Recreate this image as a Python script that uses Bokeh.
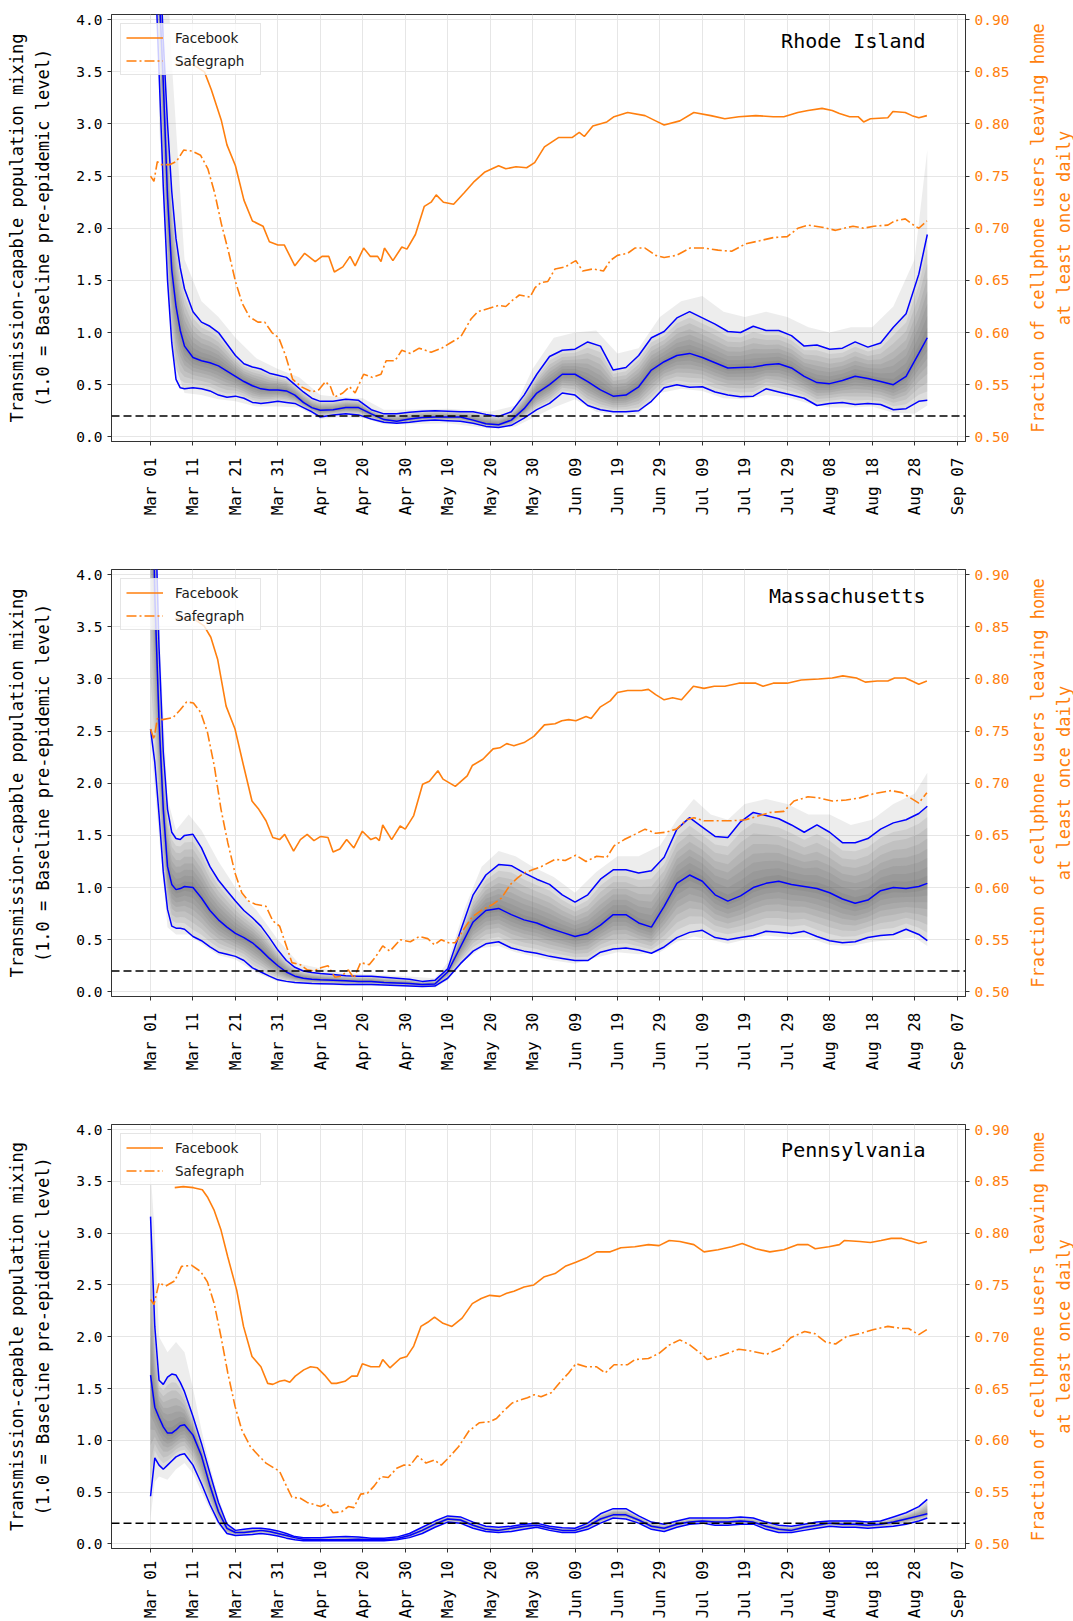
import numpy as np
from bokeh.plotting import figure
from bokeh.models import (Range1d, LinearAxis, FixedTicker, PrintfTickFormatter, Span,
                          Label, Legend, LegendItem)
from bokeh.layouts import column, row
from bokeh.embed import file_html
from bokeh.resources import INLINE

# ---------------- data ----------------
TICK_DAYS = list(range(0, 191, 10))
TICK_LABELS = ["Mar 01", "Mar 11", "Mar 21", "Mar 31", "Apr 10", "Apr 20", "Apr 30",
               "May 10", "May 20", "May 30", "Jun 09", "Jun 19", "Jun 29", "Jul 09",
               "Jul 19", "Jul 29", "Aug 08", "Aug 18", "Aug 28", "Sep 07"]
LEFT_TICKS = [0.0, 0.5, 1.0, 1.5, 2.0, 2.5, 3.0, 3.5, 4.0]
RIGHT_TICKS = [0.50, 0.55, 0.60, 0.65, 0.70, 0.75, 0.80, 0.85, 0.90]

GRID_DAYS = [0, 1, 2, 3, 4, 5, 6, 7, 8, 10, 12, 14, 16, 18, 20, 22, 24, 26, 28, 30, 32, 34,
             36, 38, 40, 43, 46, 49, 52, 55, 58, 61, 64, 67, 70, 73, 76, 79, 82, 85, 88, 91,
             94, 97, 100, 103, 106, 109, 112, 115, 118, 121, 124, 127, 130, 133, 136, 139,
             142, 145, 148, 151, 154, 157, 160, 163, 166, 169, 172, 175, 178, 181, 183]

# ---- Rhode Island ----
RI_LOWER = [6.0, 4.6, 3.5, 2.4, 1.5, 0.9, 0.55, 0.47, 0.46, 0.47, 0.46, 0.44, 0.40, 0.38, 0.39,
            0.37, 0.33, 0.32, 0.33, 0.34, 0.33, 0.32, 0.28, 0.24, 0.19, 0.21, 0.22, 0.21, 0.17,
            0.14, 0.13, 0.14, 0.155, 0.16, 0.155, 0.15, 0.13, 0.10, 0.09, 0.11, 0.18, 0.26,
            0.32, 0.42, 0.40, 0.30, 0.26, 0.24, 0.24, 0.25, 0.34, 0.47, 0.50, 0.475, 0.48,
            0.43, 0.40, 0.385, 0.39, 0.46, 0.43, 0.40, 0.37, 0.30, 0.32, 0.33, 0.31, 0.32,
            0.31, 0.26, 0.27, 0.34, 0.35]
RI_MEDIAN = [7.0, 5.6, 4.3, 3.4, 2.3, 1.6, 1.25, 1.02, 0.87, 0.76, 0.73, 0.71, 0.68, 0.63, 0.58,
             0.53, 0.49, 0.46, 0.45, 0.45, 0.44, 0.40, 0.33, 0.28, 0.255, 0.26, 0.28, 0.28, 0.22,
             0.165, 0.15, 0.17, 0.185, 0.19, 0.19, 0.19, 0.16, 0.125, 0.115, 0.16, 0.27, 0.42,
             0.50, 0.60, 0.60, 0.53, 0.45, 0.39, 0.40, 0.48, 0.64, 0.72, 0.78, 0.80, 0.76, 0.71,
             0.66, 0.665, 0.67, 0.69, 0.70, 0.66, 0.58, 0.52, 0.51, 0.54, 0.58, 0.56, 0.53,
             0.50, 0.58, 0.80, 0.95]
RI_UPPER = [7.5, 6.3, 4.8, 3.8, 3.0, 2.35, 1.9, 1.62, 1.42, 1.2, 1.10, 1.06, 1.00, 0.89, 0.78,
            0.70, 0.67, 0.65, 0.61, 0.59, 0.57, 0.50, 0.43, 0.37, 0.34, 0.34, 0.36, 0.35, 0.26,
            0.22, 0.22, 0.235, 0.245, 0.25, 0.245, 0.24, 0.24, 0.215, 0.195, 0.24, 0.40, 0.60,
            0.77, 0.83, 0.84, 0.91, 0.87, 0.64, 0.665, 0.78, 0.95, 1.01, 1.14, 1.20, 1.14,
            1.08, 1.01, 1.00, 1.06, 1.02, 1.02, 0.97, 0.87, 0.88, 0.84, 0.85, 0.91, 0.86,
            0.90, 1.05, 1.18, 1.56, 1.94]
RI_ENV_DAYS = [2, 5, 8, 12, 16, 20, 25, 30, 35, 40, 45, 50, 55, 60, 70, 80, 86, 90, 95, 100,
               105, 110, 115, 120, 125, 130, 135, 140, 145, 150, 155, 160, 165, 170, 175, 180, 183]
RI_ENV_HI = [6, 3.6, 1.7, 1.3, 1.15, 0.95, 0.75, 0.65, 0.57, 0.4, 0.38, 0.37, 0.26, 0.26, 0.27,
             0.24, 0.3, 0.65, 0.95, 1.0, 1.02, 0.8, 0.85, 1.15, 1.3, 1.35, 1.2, 1.15, 1.2, 1.15,
             1.05, 1.0, 1.05, 1.05, 1.25, 1.7, 2.75]
RI_ENV_LO = [3.0, 0.8, 0.42, 0.40, 0.36, 0.34, 0.29, 0.29, 0.28, 0.17, 0.19, 0.18, 0.12, 0.12,
             0.13, 0.08, 0.10, 0.18, 0.28, 0.36, 0.24, 0.21, 0.22, 0.42, 0.46, 0.44, 0.37, 0.36,
             0.40, 0.38, 0.32, 0.28, 0.28, 0.29, 0.23, 0.22, 0.3]
RI_FB_DAYS = [5.7, 10, 12.7, 14.3, 16.7, 18, 20, 22, 24, 26.5, 28, 30, 31.5, 34, 36.3, 38.8, 40.4,
              42, 43.3, 45.3, 47, 48.2, 50.2, 51.8, 53.5, 54.3, 55.1, 57.1, 59.2, 60.4, 62.4,
              64.5, 66.1, 67.3, 69, 71.4, 73.9, 76.3, 78.8, 82, 83.7, 86.1, 88.6, 90.5, 92.8,
              96.1, 99.3, 101, 102.2, 104.2, 107.5, 109.2, 112.4, 116.5, 119, 121, 124.7, 128,
              132, 135.3, 138.6, 142.6, 146.7, 149.2, 152.5, 154.9, 158.2, 160.6, 162.3, 164.7,
              166.7, 168, 169.6, 173.7, 174.9, 177.8, 179.4, 181, 182.9]
RI_FB = [0.857, 0.857, 0.850, 0.833, 0.803, 0.780, 0.760, 0.727, 0.707, 0.702, 0.687, 0.684,
         0.684, 0.664, 0.676, 0.668, 0.673, 0.673, 0.658, 0.663, 0.673, 0.664, 0.681, 0.673,
         0.673, 0.668, 0.681, 0.669, 0.682, 0.680, 0.694, 0.721, 0.725, 0.732, 0.725, 0.723,
         0.734, 0.745, 0.754, 0.760, 0.757, 0.759, 0.758, 0.763, 0.778, 0.787, 0.787, 0.792,
         0.788, 0.798, 0.802, 0.807, 0.811, 0.808, 0.803, 0.799, 0.803, 0.811, 0.808, 0.805,
         0.807, 0.808, 0.807, 0.807, 0.811, 0.813, 0.815, 0.813, 0.810, 0.807, 0.807, 0.802,
         0.805, 0.806, 0.812, 0.811, 0.808, 0.806, 0.808]
RI_SG_DAYS = [0, 0.8, 1.6, 2.4, 4.5, 6.1, 7.8, 9.8, 11.8, 13.5, 15.1, 16.7, 18.4, 20, 21.6, 23.3,
              25.3, 26.9, 28.6, 30.2, 31.8, 33.5, 35.5, 38, 39.6, 41.2, 42.4, 43.3, 45.3, 46.9,
              48.2, 50.2, 52.2, 54.3, 55.5, 57.6, 59.2, 61.2, 63.3, 66.1, 68.6, 70.6, 73.1,
              75.5, 77.1, 79.6, 82, 83.7, 85.3, 86.9, 89.4, 90.6, 92, 93.6, 95.3, 97.7, 100.2,
              101.8, 104.2, 106.7, 108.3, 110, 112.4, 114.1, 116.5, 119, 121, 123.9, 127.1,
              130.4, 133.7, 136.9, 140.2, 143.5, 146.7, 150, 152.5, 154.9, 158.2, 161.4, 165.5,
              168, 170.4, 173.7, 175.3, 177.8, 179.4, 181, 182.9]
RI_SG = [0.750, 0.745, 0.764, 0.761, 0.761, 0.764, 0.775, 0.774, 0.770, 0.757, 0.734, 0.704,
         0.677, 0.649, 0.628, 0.615, 0.610, 0.610, 0.600, 0.595, 0.578, 0.555, 0.548, 0.543,
         0.545, 0.553, 0.548, 0.538, 0.542, 0.548, 0.542, 0.560, 0.557, 0.560, 0.573, 0.573,
         0.583, 0.580, 0.585, 0.581, 0.585, 0.590, 0.596, 0.613, 0.620, 0.623, 0.626, 0.625,
         0.631, 0.636, 0.634, 0.643, 0.648, 0.649, 0.661, 0.663, 0.669, 0.659, 0.661, 0.659,
         0.669, 0.674, 0.676, 0.681, 0.681, 0.674, 0.672, 0.674, 0.681, 0.681, 0.679, 0.678,
         0.685, 0.688, 0.691, 0.692, 0.700, 0.703, 0.701, 0.698, 0.702, 0.700, 0.702, 0.703,
         0.707, 0.709, 0.704, 0.700, 0.707]

# ---- Massachusetts ----
MA_LOWER = [2.52, 2.2, 1.7, 1.15, 0.79, 0.63, 0.61, 0.61, 0.60, 0.53, 0.49, 0.43, 0.38, 0.36,
            0.34, 0.30, 0.23, 0.19, 0.15, 0.115, 0.10, 0.09, 0.085, 0.08, 0.078, 0.075, 0.07,
            0.07, 0.07, 0.065, 0.06, 0.055, 0.05, 0.055, 0.13, 0.27, 0.39, 0.46, 0.48, 0.42,
            0.39, 0.37, 0.34, 0.32, 0.30, 0.30, 0.38, 0.41, 0.42, 0.40, 0.37, 0.43, 0.52, 0.57,
            0.59, 0.52, 0.50, 0.52, 0.54, 0.58, 0.57, 0.56, 0.58, 0.53, 0.49, 0.47, 0.48, 0.52,
            0.54, 0.55, 0.60, 0.55, 0.49]
MA_MEDIAN = [6.0, 3.8, 2.6, 1.75, 1.2, 1.03, 0.98, 0.99, 1.01, 1.0, 0.9, 0.78, 0.69, 0.62, 0.56,
             0.52, 0.47, 0.40, 0.32, 0.25, 0.19, 0.15, 0.13, 0.12, 0.115, 0.11, 0.105, 0.10,
             0.10, 0.09, 0.085, 0.08, 0.07, 0.075, 0.19, 0.43, 0.67, 0.78, 0.80, 0.74, 0.69,
             0.66, 0.61, 0.57, 0.53, 0.56, 0.64, 0.74, 0.74, 0.66, 0.62, 0.82, 1.04, 1.12, 1.06,
             0.93, 0.87, 0.92, 1.00, 1.04, 1.06, 1.03, 1.01, 0.99, 0.95, 0.89, 0.85, 0.88, 0.97,
             1.00, 0.99, 1.01, 1.04]
MA_UPPER = [7.0, 4.8, 3.3, 2.3, 1.75, 1.53, 1.47, 1.46, 1.50, 1.51, 1.38, 1.20, 1.07, 0.97, 0.87,
            0.78, 0.71, 0.63, 0.52, 0.40, 0.30, 0.235, 0.20, 0.185, 0.175, 0.165, 0.155, 0.15,
            0.15, 0.14, 0.13, 0.12, 0.10, 0.11, 0.22, 0.58, 0.93, 1.12, 1.22, 1.21, 1.14, 1.08,
            1.03, 0.93, 0.86, 0.93, 1.08, 1.17, 1.17, 1.14, 1.16, 1.29, 1.56, 1.67, 1.58, 1.49,
            1.48, 1.63, 1.72, 1.69, 1.66, 1.60, 1.53, 1.60, 1.53, 1.43, 1.43, 1.47, 1.56, 1.62,
            1.65, 1.71, 1.78]
MA_ENV_DAYS = [0, 2, 4, 6, 9, 12, 16, 20, 25, 30, 35, 45, 60, 67, 70, 74, 78, 82, 86, 90, 95,
               100, 105, 110, 115, 120, 124, 128, 132, 136, 140, 145, 150, 155, 160, 165, 170,
               175, 180, 183]
MA_ENV_HI = [7, 3.5, 1.85, 1.55, 1.7, 1.55, 1.25, 1.0, 0.78, 0.5, 0.27, 0.18, 0.15, 0.13, 0.28,
             0.8, 1.2, 1.35, 1.3, 1.2, 1.1, 0.95, 1.15, 1.3, 1.3, 1.4, 1.65, 1.85, 1.7, 1.65,
             1.8, 1.85, 1.8, 1.7, 1.7, 1.6, 1.65, 1.8, 1.9, 2.1]
MA_ENV_LO = [2.4, 1.5, 0.62, 0.55, 0.55, 0.46, 0.35, 0.31, 0.18, 0.1, 0.075, 0.06, 0.05, 0.04,
             0.11, 0.3, 0.42, 0.44, 0.38, 0.34, 0.3, 0.27, 0.33, 0.38, 0.36, 0.38, 0.48, 0.53,
             0.5, 0.46, 0.5, 0.54, 0.52, 0.52, 0.45, 0.44, 0.48, 0.5, 0.52, 0.44]
MA_FB_DAYS = [5.7, 10.1, 12.6, 14.2, 15.8, 17.8, 19.9, 21.9, 23.9, 25.5, 27.2, 28.8, 30.4, 31.6,
              33.7, 35.3, 36.9, 38.5, 40.1, 41.8, 43, 44.6, 46.2, 47.9, 49.9, 51.9, 53.1, 53.9,
              54.7, 56.8, 58.8, 60, 62, 64.1, 65.7, 67.7, 68.9, 71.8, 74.6, 75.8, 78.3, 80.7,
              82.3, 83.9, 85.6, 88, 90.3, 92.8, 95.3, 96.9, 98.5, 100.2, 102.6, 103.8, 105.9,
              108.3, 110, 112.4, 115.7, 117.3, 119, 121, 123, 125.1, 127.9, 130.4, 132.8, 135.3,
              138.6, 142.6, 144.3, 146.7, 150, 153.3, 157.4, 160.6, 163.1, 166.3, 168.4, 171.2,
              173.7, 175.3, 177.8, 179.4, 181, 182.9]
MA_FB = [0.858, 0.858, 0.851, 0.840, 0.819, 0.774, 0.752, 0.717, 0.683, 0.675, 0.664, 0.648,
         0.646, 0.651, 0.635, 0.646, 0.651, 0.645, 0.649, 0.648, 0.634, 0.637, 0.646, 0.638,
         0.654, 0.646, 0.648, 0.645, 0.660, 0.646, 0.659, 0.656, 0.669, 0.699, 0.702, 0.712,
         0.704, 0.697, 0.707, 0.717, 0.723, 0.733, 0.734, 0.738, 0.736, 0.739, 0.745, 0.756,
         0.757, 0.760, 0.761, 0.760, 0.764, 0.762, 0.773, 0.779, 0.787, 0.789, 0.789, 0.790,
         0.785, 0.780, 0.782, 0.780, 0.793, 0.791, 0.793, 0.793, 0.796, 0.796, 0.793, 0.796,
         0.796, 0.799, 0.800, 0.801, 0.803, 0.801, 0.797, 0.798, 0.798, 0.801, 0.801, 0.798,
         0.795, 0.798]
MA_SG_DAYS = [0, 0.8, 1.6, 2.8, 5.3, 6.9, 8.5, 10.1, 11.8, 13.4, 15, 16.6, 18.2, 19.9, 21.5, 23.1,
              24.7, 27.2, 28.8, 30.4, 32, 33.3, 35.3, 36.9, 38.5, 40.1, 41.8, 43.4, 45, 46.6,
              47.9, 49.5, 51.5, 53.1, 54.7, 56.4, 58.8, 61.2, 63.3, 65.3, 66.9, 68.5, 70.2, 71.8,
              73.8, 75.8, 78.3, 80.7, 82.7, 84.8, 86.4, 88, 90, 92, 95.3, 97.7, 100.2, 102.6,
              105.1, 107.5, 109.2, 111.6, 114.1, 116.5, 119, 121.4, 123.9, 126.3, 128, 130.4,
              133.7, 136.9, 140.2, 143.5, 145.9, 149.2, 151.6, 154.9, 157.4, 160.6, 163.9, 167.1,
              170.4, 174.5, 177, 179.4, 181, 182.9]
MA_SG = [0.752, 0.742, 0.762, 0.761, 0.763, 0.770, 0.778, 0.777, 0.768, 0.749, 0.717, 0.675,
         0.643, 0.614, 0.595, 0.587, 0.584, 0.582, 0.568, 0.563, 0.544, 0.528, 0.526, 0.521,
         0.520, 0.523, 0.525, 0.514, 0.515, 0.521, 0.513, 0.528, 0.526, 0.534, 0.544, 0.539,
         0.550, 0.548, 0.553, 0.551, 0.545, 0.550, 0.547, 0.547, 0.560, 0.572, 0.579, 0.584,
         0.590, 0.603, 0.609, 0.614, 0.617, 0.620, 0.627, 0.626, 0.631, 0.625, 0.630, 0.629,
         0.640, 0.646, 0.651, 0.656, 0.652, 0.653, 0.656, 0.665, 0.667, 0.664, 0.664, 0.664,
         0.665, 0.669, 0.672, 0.673, 0.683, 0.687, 0.686, 0.683, 0.684, 0.686, 0.690, 0.693,
         0.691, 0.685, 0.681, 0.691]

# ---- Pennsylvania ----
PA_LOWER = [0.46, 0.83, 0.76, 0.72, 0.76, 0.80, 0.84, 0.86, 0.87, 0.76, 0.58, 0.38, 0.21, 0.10,
            0.08, 0.085, 0.09, 0.10, 0.09, 0.075, 0.055, 0.04, 0.03, 0.03, 0.03, 0.03, 0.03,
            0.03, 0.03, 0.03, 0.04, 0.06, 0.10, 0.16, 0.21, 0.20, 0.15, 0.12, 0.11, 0.12, 0.14,
            0.16, 0.13, 0.11, 0.11, 0.14, 0.20, 0.25, 0.24, 0.20, 0.14, 0.12, 0.16, 0.19, 0.20,
            0.18, 0.18, 0.19, 0.19, 0.14, 0.11, 0.11, 0.13, 0.15, 0.17, 0.16, 0.16, 0.15, 0.16,
            0.17, 0.19, 0.22, 0.25]
PA_MEDIAN = [1.63, 1.32, 1.22, 1.13, 1.07, 1.07, 1.10, 1.14, 1.15, 1.05, 0.85, 0.56, 0.31, 0.15,
             0.11, 0.11, 0.12, 0.13, 0.12, 0.10, 0.08, 0.06, 0.045, 0.04, 0.04, 0.04, 0.04,
             0.045, 0.04, 0.04, 0.05, 0.08, 0.13, 0.19, 0.24, 0.23, 0.18, 0.14, 0.13, 0.15, 0.17,
             0.18, 0.15, 0.13, 0.13, 0.17, 0.24, 0.28, 0.28, 0.23, 0.17, 0.15, 0.19, 0.21, 0.22,
             0.21, 0.21, 0.22, 0.21, 0.17, 0.14, 0.13, 0.16, 0.18, 0.20, 0.19, 0.19, 0.18, 0.19,
             0.21, 0.24, 0.27, 0.29]
PA_UPPER = [3.16, 2.1, 1.58, 1.54, 1.61, 1.64, 1.63, 1.56, 1.47, 1.23, 0.97, 0.68, 0.40, 0.19,
            0.13, 0.14, 0.15, 0.15, 0.14, 0.125, 0.10, 0.07, 0.06, 0.06, 0.06, 0.065, 0.07,
            0.065, 0.055, 0.055, 0.065, 0.10, 0.16, 0.22, 0.27, 0.26, 0.21, 0.17, 0.16, 0.17,
            0.19, 0.20, 0.17, 0.155, 0.15, 0.20, 0.29, 0.34, 0.34, 0.27, 0.21, 0.19, 0.22, 0.25,
            0.25, 0.25, 0.25, 0.26, 0.25, 0.21, 0.18, 0.17, 0.19, 0.21, 0.22, 0.22, 0.22, 0.21,
            0.22, 0.26, 0.30, 0.36, 0.43]
PA_ENV_DAYS = [0, 1, 2, 4, 6, 8, 10, 12, 14, 16, 18, 20]
PA_ENV_HI = [3.6, 3.0, 2.0, 1.85, 1.95, 1.85, 1.5, 1.1, 0.75, 0.45, 0.21, 0.14]
PA_ENV_LO = [0.25, 0.6, 0.65, 0.62, 0.72, 0.78, 0.68, 0.5, 0.33, 0.18, 0.09, 0.07]
PA_FB_DAYS = [5.7, 7.7, 10.1, 12.2, 13.4, 15, 16.6, 18.2, 20.3, 21.9, 23.9, 26, 27.6, 28.8, 30.4,
              31.6, 32.8, 34.1, 36.1, 37.7, 39.3, 41, 42.6, 43.8, 45.8, 47.4, 48.7, 49.9, 51.9,
              53.9, 54.7, 56.4, 58.8, 60.4, 62, 63.7, 65.3, 66.9, 68.9, 71, 73.4, 75.8, 77.9,
              79.9, 82.3, 83.9, 85.6, 88, 90.3, 92.8, 95.3, 97.7, 100.2, 102.6, 105.1, 108.3,
              110.8, 114.1, 117.3, 119.8, 122.2, 124.7, 128, 130.4, 133.7, 136.9, 139.4, 142.6,
              145.9, 149.2, 152.5, 154.9, 156.6, 159.8, 162.3, 163.5, 167.1, 169.6, 172.1, 174.5,
              177, 178.6, 181, 182.9]
PA_FB = [0.844, 0.845, 0.844, 0.842, 0.835, 0.822, 0.803, 0.777, 0.745, 0.710, 0.681, 0.671,
         0.655, 0.654, 0.657, 0.658, 0.656, 0.662, 0.668, 0.671, 0.670, 0.663, 0.655, 0.655,
         0.657, 0.662, 0.662, 0.674, 0.671, 0.671, 0.678, 0.670, 0.679, 0.681, 0.691, 0.710,
         0.714, 0.719, 0.713, 0.710, 0.718, 0.732, 0.737, 0.740, 0.739, 0.742, 0.744, 0.748,
         0.750, 0.758, 0.761, 0.768, 0.772, 0.776, 0.782, 0.782, 0.786, 0.787, 0.789, 0.788,
         0.793, 0.792, 0.789, 0.782, 0.784, 0.787, 0.790, 0.785, 0.782, 0.784, 0.789, 0.789,
         0.785, 0.787, 0.789, 0.793, 0.792, 0.791, 0.793, 0.795, 0.795, 0.793, 0.790, 0.792]
PA_SG_DAYS = [0, 0.8, 2, 3.6, 5.7, 7.3, 9.7, 11.8, 13.4, 15, 16.6, 18.2, 19.9, 21.5, 23.5, 25.5,
              27.2, 29.2, 30.4, 32, 33.3, 35.3, 36.9, 38.5, 40.1, 41.4, 43, 45, 46.6, 47.9, 49.5,
              51.1, 52.7, 54.3, 56, 58, 59.6, 61.2, 62.9, 64.9, 66.9, 68.5, 70.2, 72.6, 75, 77.5,
              79.9, 81.5, 83.1, 85.2, 87.2, 88.8, 90.4, 92, 94.4, 96.9, 98.5, 100.2, 102.6,
              105.1, 107.1, 109.2, 112.4, 114.1, 117.3, 119.8, 122.2, 124.7, 127.1, 129.6, 131.2,
              134.5, 138.6, 141.8, 145.1, 148.4, 150.8, 154.1, 156.5, 159, 161.4, 163.9, 167.1,
              170.4, 173.7, 177, 178.6, 181, 182.9]
PA_SG = [0.736, 0.731, 0.752, 0.749, 0.754, 0.768, 0.769, 0.763, 0.753, 0.732, 0.700, 0.665,
         0.633, 0.610, 0.594, 0.585, 0.578, 0.573, 0.570, 0.556, 0.545, 0.544, 0.540, 0.538,
         0.536, 0.539, 0.530, 0.531, 0.536, 0.535, 0.548, 0.549, 0.556, 0.565, 0.564, 0.573,
         0.576, 0.576, 0.585, 0.578, 0.581, 0.576, 0.583, 0.594, 0.609, 0.617, 0.618, 0.621,
         0.628, 0.636, 0.639, 0.641, 0.644, 0.642, 0.646, 0.658, 0.665, 0.674, 0.671, 0.671,
         0.665, 0.673, 0.673, 0.678, 0.679, 0.684, 0.692, 0.697, 0.692, 0.684, 0.678, 0.682,
         0.688, 0.686, 0.683, 0.689, 0.699, 0.705, 0.703, 0.695, 0.693, 0.700, 0.703, 0.707,
         0.710, 0.708, 0.708, 0.702, 0.707]

STATES = [
    dict(name="Rhode Island", lower=RI_LOWER, median=RI_MEDIAN, upper=RI_UPPER,
         env_days=RI_ENV_DAYS, env_lo=RI_ENV_LO, env_hi=RI_ENV_HI,
         fb_days=RI_FB_DAYS, fb=RI_FB, sg_days=RI_SG_DAYS, sg=RI_SG),
    dict(name="Massachusetts", lower=MA_LOWER, median=MA_MEDIAN, upper=MA_UPPER,
         env_days=MA_ENV_DAYS, env_lo=MA_ENV_LO, env_hi=MA_ENV_HI,
         fb_days=MA_FB_DAYS, fb=MA_FB, sg_days=MA_SG_DAYS, sg=MA_SG),
    dict(name="Pennsylvania", lower=PA_LOWER, median=PA_MEDIAN, upper=PA_UPPER,
         env_days=PA_ENV_DAYS, env_lo=PA_ENV_LO, env_hi=PA_ENV_HI,
         fb_days=PA_FB_DAYS, fb=PA_FB, sg_days=PA_SG_DAYS, sg=PA_SG),
]

# ---------------- style / layout ----------------
ORANGE = "#ff7f0e"
BLUE = "#0000ff"
MONO = "DejaVu Sans Mono"
SANS = "DejaVu Sans"
LEFT_LABEL = "Transmission-capable population mixing\n(1.0 = Baseline pre-epidemic level)"
RIGHT_LABEL = "Fraction of cellphone users leaving home\nat least once daily"

X0, X1 = -9.2, 192.0
Y0, Y1 = -0.045, 4.05
BORDER_LEFT = 111
FRAME_W = 854
FRAME_H = 427
BORDER_TOP = 14
BORDER_RIGHT = 48
MAIN_W = BORDER_LEFT + FRAME_W + BORDER_RIGHT   # 1013
SIDE_W = 60


def trim(*arrs):
    n = min(len(a) for a in arrs)
    return [list(a[:n]) for a in arrs]


def make_panel(st, height, x_standoff):
    border_bottom = height - BORDER_TOP - FRAME_H
    p = figure(width=MAIN_W, height=height,
               x_range=Range1d(X0, X1), y_range=Range1d(Y0, Y1),
               output_backend="svg", toolbar_location=None,
               min_border_left=BORDER_LEFT, min_border_right=BORDER_RIGHT,
               min_border_top=BORDER_TOP, min_border_bottom=border_bottom)
    p.extra_y_ranges = {"frac": Range1d(0.4955, 0.905)}
    p.background_fill_color = "white"
    p.border_fill_color = "white"
    p.outline_line_color = "#333333"
    p.outline_line_width = 1

    # ensemble shading (light outer envelope, then density gradient around the median)
    ed, elo, ehi = trim(st["env_days"], st["env_lo"], st["env_hi"])
    p.varea(x=ed, y1=elo, y2=ehi, fill_color="#808080", fill_alpha=0.14)
    gd, lo, med, hi = trim(GRID_DAYS, st["lower"], st["median"], st["upper"])
    lo_a, med_a, hi_a = np.array(lo), np.array(med), np.array(hi)
    for t in [1.0, 0.86, 0.72, 0.58, 0.45, 0.33, 0.21, 0.1]:
        p.varea(x=gd, y1=list(med_a - t * (med_a - lo_a)), y2=list(med_a + t * (hi_a - med_a)),
                fill_color="#555555", fill_alpha=0.105)

    for series in (lo, med, hi):
        p.line(gd, series, line_color=BLUE, line_width=1.5)

    p.add_layout(Span(location=0.2, dimension="width", line_color="black",
                      line_width=1.5, line_dash="8 4"))

    fd, fv = trim(st["fb_days"], st["fb"])
    sd, sv = trim(st["sg_days"], st["sg"])
    r_fb = p.line(fd, fv, y_range_name="frac", line_color=ORANGE, line_width=1.6)
    r_sg = p.line(sd, sv, y_range_name="frac", line_color=ORANGE, line_width=1.6,
                  line_dash="10 3 2 3")

    # axes
    xa = p.xaxis[0]
    xa.ticker = FixedTicker(ticks=TICK_DAYS)
    xa.major_label_overrides = {d: lab for d, lab in zip(TICK_DAYS, TICK_LABELS)}
    xa.major_label_orientation = np.pi / 2
    xa.major_label_text_font = MONO
    xa.major_label_text_font_size = "16px"
    xa.major_label_text_color = "black"
    xa.major_label_standoff = x_standoff

    ya = p.yaxis[0]
    ya.ticker = FixedTicker(ticks=LEFT_TICKS)
    ya.formatter = PrintfTickFormatter(format="%.1f")
    ya.major_label_text_font = MONO
    ya.major_label_text_font_size = "14.5px"
    ya.major_label_text_color = "black"
    ya.axis_label = LEFT_LABEL
    ya.axis_label_text_font = MONO
    ya.axis_label_text_font_size = "17px"
    ya.axis_label_text_font_style = "normal"
    ya.axis_label_text_color = "black"
    ya.axis_label_text_line_height = 1.3
    ya.axis_label_standoff = 20

    ra = LinearAxis(y_range_name="frac", ticker=FixedTicker(ticks=RIGHT_TICKS),
                    formatter=PrintfTickFormatter(format="%.2f"))
    ra.major_label_text_font = MONO
    ra.major_label_text_font_size = "14.5px"
    ra.major_label_text_color = ORANGE
    p.add_layout(ra, "right")

    for ax in (xa, ya, ra):
        ax.axis_line_color = "#333333"
        ax.major_tick_line_color = "#333333"
        ax.major_tick_out = 4
        ax.major_tick_in = 0
        ax.minor_tick_line_color = None

    p.xgrid.grid_line_color = "#e6e6e6"
    p.ygrid.grid_line_color = "#e6e6e6"

    p.add_layout(Label(x=182.6, y=3.80, text=st["name"], text_font=MONO,
                       text_font_size="20px", text_align="right", text_baseline="middle",
                       text_color="black"))

    legend = Legend(items=[LegendItem(label="Facebook", renderers=[r_fb]),
                           LegendItem(label="Safegraph", renderers=[r_sg])],
                    location="top_left", margin=9, padding=5, spacing=6,
                    glyph_width=37, glyph_height=17, label_height=17, label_width=80,
                    label_standoff=12, label_text_font=SANS, label_text_font_size="13.5px",
                    label_text_color="#1a1a1a", border_line_color="#cccccc",
                    background_fill_color="white", background_fill_alpha=0.8)
    p.add_layout(legend)

    # side strip carrying the right-hand axis title (reads bottom-to-top).
    # Bokeh aligns its frame with the main frame, so (0..1) spans the main frame height.
    side = figure(width=SIDE_W, height=height, x_range=Range1d(0, SIDE_W),
                  y_range=Range1d(0, 1), output_backend="svg", toolbar_location=None,
                  x_axis_location=None, y_axis_location=None, min_border=0)
    side.outline_line_color = None
    side.background_fill_color = "white"
    side.border_fill_color = "white"
    side.grid.visible = False
    side.add_layout(Label(x=37.5, y=0.5, text=RIGHT_LABEL,
                          angle=np.pi / 2, text_font=MONO, text_font_size="17px",
                          text_color=ORANGE, text_align="center", text_baseline="middle",
                          text_line_height=1.3))
    return row(p, side, spacing=0)


r1 = make_panel(STATES[0], 555, 12)
r2 = make_panel(STATES[1], 555, 12)
r3 = make_panel(STATES[2], 511, 8)
layout = column(r1, r2, r3, spacing=0)

open("out.html", "w").write(file_html(layout, INLINE))
